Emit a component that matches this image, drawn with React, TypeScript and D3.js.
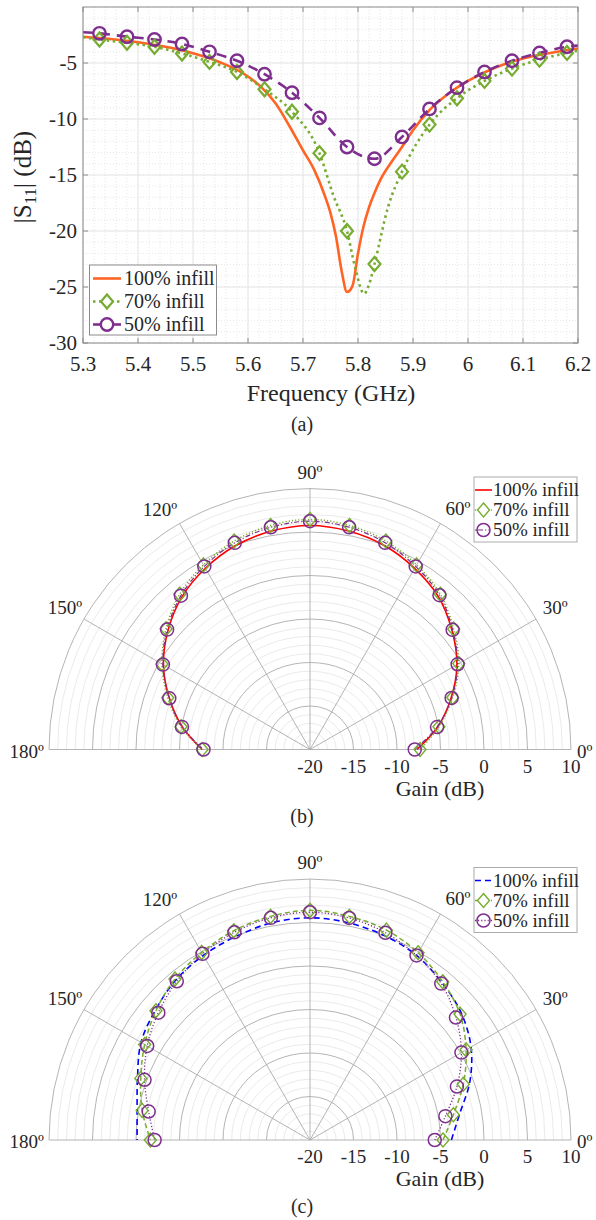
import React from 'react';
import * as d3 from 'd3';

const FONT = 'Liberation Serif, DejaVu Serif, serif';
const INK = '#262626';
const ORANGE = '#FF6424';
const GREEN = '#77AC30';
const PURPLE = '#7E2F8E';
const RED = '#FF0000';
const BLUE = '#0000FF';

// ---------- (a) |S11| vs frequency ----------
const freqTicks = [5.3, 5.4, 5.5, 5.6, 5.7, 5.8, 5.9, 6, 6.1, 6.2];
const s11Ticks = [-30, -25, -20, -15, -10, -5];

const markerFreqs = [5.33, 5.38, 5.43, 5.48, 5.53, 5.58, 5.63, 5.68, 5.73, 5.78, 5.83, 5.88, 5.93, 5.98, 6.03, 6.08, 6.13, 6.18];

const freq100 = [5.30, 5.35, 5.40, 5.45, 5.50, 5.55, 5.60, 5.625, 5.65, 5.675, 5.70, 5.72, 5.74, 5.75, 5.76, 5.77, 5.78, 5.79, 5.80, 5.81, 5.82, 5.83, 5.84, 5.86, 5.88, 5.90, 5.93, 5.96, 6.00, 6.05, 6.10, 6.15, 6.20];
const s11_100 = [-2.65, -2.85, -3.15, -3.55, -4.13, -4.95, -6.2, -7.2, -8.6, -10.6, -12.8, -14.5, -16.9, -18.4, -20.5, -23.5, -25.45, -24.9, -22.0, -19.6, -17.9, -16.6, -15.5, -13.9, -12.5, -11.0, -9.2, -7.9, -6.6, -5.4, -4.6, -4.1, -3.7];

const freq70 = [5.30, 5.33, 5.38, 5.43, 5.48, 5.53, 5.58, 5.63, 5.68, 5.73, 5.755, 5.78, 5.795, 5.811, 5.82, 5.83, 5.855, 5.88, 5.93, 5.98, 6.03, 6.08, 6.13, 6.18, 6.20];
const s11_70 = [-2.7, -2.9, -3.2, -3.55, -4.15, -4.9, -5.8, -7.35, -9.35, -13.05, -16.8, -20.0, -23.3, -25.6, -24.8, -22.95, -17.8, -14.7, -10.5, -8.15, -6.6, -5.5, -4.7, -4.1, -3.9];

const freq50 = [5.30, 5.33, 5.38, 5.43, 5.48, 5.53, 5.58, 5.63, 5.68, 5.73, 5.78, 5.83, 5.88, 5.93, 5.98, 6.03, 6.08, 6.13, 6.18, 6.20];
const s11_50 = [-2.25, -2.35, -2.65, -2.9, -3.3, -4.0, -4.8, -6.0, -7.65, -9.9, -12.5, -13.55, -11.6, -9.1, -7.2, -5.8, -4.8, -4.1, -3.55, -3.45];

// ---------- (b), (c) radiation patterns ----------
const angles = [0, 10, 20, 30, 40, 50, 60, 70, 80, 90, 100, 110, 120, 130, 140, 150, 160, 170, 180];
const angleTicks = [0, 30, 60, 90, 120, 150, 180];
const gainTicks = [-20, -15, -10, -5, 0, 5, 10];

const gainB100 = [-7.7, -5.1, -2.75, -0.5, 1.3, 2.95, 4.05, 4.95, 5.5, 5.75, 5.5, 4.95, 4.05, 2.9, 1.3, -0.55, -2.8, -5.1, -7.6];
const gainB70 = [-7.35, -4.95, -2.55, -0.25, 1.55, 3.3, 4.5, 5.5, 6.15, 6.45, 6.15, 5.5, 4.5, 3.3, 1.6, -0.35, -2.6, -4.95, -7.6];
const gainB50 = [-7.96, -5.17, -2.68, -0.41, 1.4, 3.15, 4.3, 5.28, 5.94, 6.24, 5.94, 5.28, 4.3, 3.08, 1.44, -0.48, -2.79, -5.06, -7.76];

const gainC100 = [-3.75, -2.52, -0.45, 1.37, 2.7, 3.6, 4.5, 5.0, 5.35, 5.54, 5.35, 4.9, 4.5, 4.0, 3.2, 2.43, 1.1, 0.18, -0.13];
const gainC70 = [-4.71, -3.27, -1.25, 0.72, 2.51, 3.74, 4.85, 5.67, 6.1, 6.4, 6.1, 5.6, 4.9, 4.15, 3.12, 1.94, 0.7, -0.41, -1.65];
const gainC50 = [-5.66, -4.2, -2.03, 0.1, 1.9, 3.47, 4.49, 5.35, 5.92, 6.18, 5.93, 5.41, 4.71, 3.82, 2.76, 1.61, 0.24, -1.17, -2.14];

const legendLabels = ['100% infill', '70% infill', '50% infill'];

const diamond = 'M0,-7L6,0L0,7L-6,0Z';

type Pt = [number, number];

function S11Chart() {
  const x = d3.scaleLinear().domain([5.3, 6.2]).range([83, 578]);
  const y = d3.scaleLinear().domain([-30, 0]).range([343, 7]);
  const [x0, x1] = x.range();
  const [y0, y1] = y.range();

  const line = d3.line<Pt>().x(d => x(d[0])).y(d => y(d[1])).curve(d3.curveMonotoneX);
  const pts = (f: number[], v: number[]): Pt[] => f.map((d, i) => [d, v[i]]);
  const marks = (f: number[], v: number[]): Pt[] => pts(f, v).filter(p => markerFreqs.some(m => Math.abs(m - p[0]) < 1e-6));

  const minorX = x.ticks(45);
  const minorY = y.ticks(30);

  return (
    <g style={{ fontFamily: FONT }} fill={INK}>
      <defs>
        <clipPath id="clipA"><rect x={x0} y={y1} width={x1 - x0} height={y0 - y1} /></clipPath>
      </defs>
      <rect x={x0} y={y1} width={x1 - x0} height={y0 - y1} fill="#fff" />
      {minorX.map((t, i) => (
        <line key={'mx' + i} x1={x(t)} x2={x(t)} y1={y1} y2={y0} stroke="#dcdcdc" strokeWidth={0.7} strokeDasharray="1,2" />
      ))}
      {minorY.map((t, i) => (
        <line key={'my' + i} y1={y(t)} y2={y(t)} x1={x0} x2={x1} stroke="#dcdcdc" strokeWidth={0.7} strokeDasharray="1,2" />
      ))}
      {freqTicks.map((t, i) => (
        <line key={'gx' + i} x1={x(t)} x2={x(t)} y1={y1} y2={y0} stroke="#e6e6e6" strokeWidth={1} />
      ))}
      {s11Ticks.map((t, i) => (
        <line key={'gy' + i} y1={y(t)} y2={y(t)} x1={x0} x2={x1} stroke="#e6e6e6" strokeWidth={1} />
      ))}
      <g clipPath="url(#clipA)" fill="none">
        <path d={line(pts(freq100, s11_100)) || ''} stroke={ORANGE} strokeWidth={2.6} />
        <path d={line(pts(freq70, s11_70)) || ''} stroke={GREEN} strokeWidth={2.6} strokeDasharray="2.5,3.5" />
        <path d={line(pts(freq50, s11_50)) || ''} stroke={PURPLE} strokeWidth={2.6} strokeDasharray="10,7" />
        {marks(freq70, s11_70).map((p, i) => (
          <path key={'d' + i} d={diamond} transform={`translate(${x(p[0])},${y(p[1])})`} stroke={GREEN} strokeWidth={2.2} fill="none" />
        ))}
        {marks(freq50, s11_50).map((p, i) => (
          <circle key={'c' + i} cx={x(p[0])} cy={y(p[1])} r={6.2} stroke={PURPLE} strokeWidth={2.4} fill="none" />
        ))}
      </g>
      <rect x={x0} y={y1} width={x1 - x0} height={y0 - y1} fill="none" stroke="#8c8c8c" strokeWidth={1} />
      {freqTicks.map((t, i) => (
        <g key={'tx' + i}>
          <line x1={x(t)} x2={x(t)} y1={y0} y2={y0 - 5} stroke="#8c8c8c" />
          <line x1={x(t)} x2={x(t)} y1={y1} y2={y1 + 5} stroke="#8c8c8c" />
          <text x={x(t)} y={371} fontSize={21} textAnchor="middle">{t}</text>
        </g>
      ))}
      {s11Ticks.map((t, i) => (
        <g key={'ty' + i}>
          <line x1={x0} x2={x0 + 5} y1={y(t)} y2={y(t)} stroke="#8c8c8c" />
          <line x1={x1} x2={x1 - 5} y1={y(t)} y2={y(t)} stroke="#8c8c8c" />
          <text x={77} y={y(t)} dy="0.34em" fontSize={21} textAnchor="end">{t}</text>
        </g>
      ))}
      <text x={331} y={401} fontSize={24} textAnchor="middle">Frequency (GHz)</text>
      <text transform="translate(31,177) rotate(-90)" fontSize={25} textAnchor="middle">
        <tspan>|S</tspan>
        <tspan dy={5} fontSize={17}>11</tspan>
        <tspan dy={-5}>| (dB)</tspan>
      </text>
      <text x={302} y={431} fontSize={20} textAnchor="middle">(a)</text>

      <g>
        <rect x={89.5} y={265} width={127} height={70} fill="#fff" stroke="#8c8c8c" strokeWidth={1} />
        {legendLabels.map((lab, i) => {
          const ly = 278.5 + i * 23;
          return (
            <g key={'la' + i}>
              {i === 0 && <line x1={93} x2={121} y1={ly} y2={ly} stroke={ORANGE} strokeWidth={2.6} />}
              {i === 1 && <line x1={93} x2={121} y1={ly} y2={ly} stroke={GREEN} strokeWidth={2.6} strokeDasharray="2.5,3.5" />}
              {i === 1 && <path d={diamond} transform={`translate(107,${ly})`} stroke={GREEN} strokeWidth={2.2} fill="#fff" />}
              {i === 2 && <line x1={93} x2={121} y1={ly} y2={ly} stroke={PURPLE} strokeWidth={2.6} />}
              {i === 2 && <circle cx={107} cy={ly} r={6.2} stroke={PURPLE} strokeWidth={2.4} fill="#fff" />}
              <text x={124} y={ly} dy="0.34em" fontSize={20}>{lab}</text>
            </g>
          );
        })}
      </g>
    </g>
  );
}

type SeriesStyle = {
  values: number[];
  color: string;
  width: number;
  dash?: string;
  marker?: 'diamond' | 'circle';
};

function PolarChart({ cy, series, label }: { cy: number; series: SeriesStyle[]; label: string }) {
  const cx = 310;
  const R = 261;
  const r = d3.scaleLinear().domain([-20, 10]).range([0, R]);
  const pos = (deg: number, rad: number): Pt => [cx + rad * Math.cos((deg * Math.PI) / 180), cy - rad * Math.sin((deg * Math.PI) / 180)];
  const radial = d3
    .lineRadial<number>()
    .angle((_, i) => ((90 - angles[i]) * Math.PI) / 180)
    .radius(d => r(d))
    .curve(d3.curveCatmullRom.alpha(0.5));
  const arc = (rad: number) => `M${cx - rad},${cy}A${rad},${rad} 0 0 1 ${cx + rad},${cy}`;
  const minor = r.ticks(30).filter(t => t > -20 && t % 5 !== 0);

  return (
    <g style={{ fontFamily: FONT }} fill={INK}>
      {minor.map((t, i) => (
        <path key={'mr' + i} d={arc(r(t))} fill="none" stroke="#e4e4e4" strokeWidth={0.8} />
      ))}
      {gainTicks.filter(t => t > -20).map((t, i) => (
        <path key={'rr' + i} d={arc(r(t))} fill="none" stroke="#acacac" strokeWidth={0.9} />
      ))}
      {angleTicks.map((a, i) => {
        const [px, py] = pos(a, R);
        return <line key={'sp' + i} x1={cx} y1={cy} x2={px} y2={py} stroke="#acacac" strokeWidth={0.9} />;
      })}
      <g transform={`translate(${cx},${cy})`} fill="none">
        {series.map((s, i) => (
          <path key={'ln' + i} d={radial(s.values) || ''} stroke={s.color} strokeWidth={s.width} strokeDasharray={s.dash} />
        ))}
      </g>
      {series.map((s, i) =>
        s.marker
          ? s.values.map((v, j) => {
              const [px, py] = pos(angles[j], r(v));
              return s.marker === 'diamond' ? (
                <path key={`m${i}-${j}`} d={diamond} transform={`translate(${px},${py})`} fill="none" stroke={s.color} strokeWidth={1.4} />
              ) : (
                <circle key={`m${i}-${j}`} cx={px} cy={py} r={6.5} fill="none" stroke={s.color} strokeWidth={1.5} />
              );
            })
          : null
      )}
      {angleTicks.map((a, i) => {
        if (a === 0) return <text key={'al' + i} x={cx + R + 6} y={cy + 2} dy="0.34em" fontSize={19}>{'0º'}</text>;
        if (a === 180) return <text key={'al' + i} x={cx - R - 5} y={cy + 2} dy="0.34em" fontSize={19} textAnchor="end">{'180º'}</text>;
        const spread = a === 120 ? 2 : a === 60 ? -1.5 : 0;
        const [px, py] = pos(a + spread, a === 90 ? R + 16 : R + 22);
        return (
          <text key={'al' + i} x={px} y={py} dy="0.34em" fontSize={19} textAnchor="middle">{`${a}º`}</text>
        );
      })}
      {gainTicks.map((t, i) => (
        <text key={'gl' + i} x={cx + r(t)} y={cy + 23} fontSize={19} textAnchor="middle">{t}</text>
      ))}
      <text x={cx + 130} y={cy + 46} fontSize={22} textAnchor="middle">Gain (dB)</text>
      <text x={302} y={cy + 73} fontSize={20} textAnchor="middle">{label}</text>

      <g>
        <rect x={474} y={cy - 272.5} width={103} height={65} fill="#fff" stroke="#acacac" strokeWidth={1} />
        {series.map((s, i) => {
          const ly = cy - 259.5 + i * 20;
          return (
            <g key={'lg' + i}>
              <line x1={475} x2={492} y1={ly} y2={ly} stroke={s.color} strokeWidth={s.width} strokeDasharray={s.dash} />
              {s.marker === 'diamond' && <path d={diamond} transform={`translate(483.5,${ly})`} fill="#fff" stroke={s.color} strokeWidth={1.4} />}
              {s.marker === 'circle' && (
                <>
                  <circle cx={483.5} cy={ly} r={6.5} fill="#fff" stroke={s.color} strokeWidth={1.5} />
                  <line x1={478} x2={489} y1={ly} y2={ly} stroke={s.color} strokeWidth={s.width} strokeDasharray={s.dash} />
                </>
              )}
              <text x={493} y={ly} dy="0.34em" fontSize={19}>{legendLabels[i]}</text>
            </g>
          );
        })}
      </g>
    </g>
  );
}

export default function App() {
  const seriesB: SeriesStyle[] = [
    { values: gainB100, color: RED, width: 1.6 },
    { values: gainB70, color: GREEN, width: 1.5, dash: '1.2,2', marker: 'diamond' },
    { values: gainB50, color: PURPLE, width: 1.2, dash: '5,2,1.2,2', marker: 'circle' },
  ];
  const seriesC: SeriesStyle[] = [
    { values: gainC100, color: BLUE, width: 1.6, dash: '6,4' },
    { values: gainC70, color: GREEN, width: 1.5, dash: '5,3', marker: 'diamond' },
    { values: gainC50, color: PURPLE, width: 1.3, dash: '1.2,2', marker: 'circle' },
  ];
  return (
    <svg width={596} height={1220} style={{ position: 'absolute', left: 0, top: 0, background: '#fff' }}>
      <rect width={596} height={1220} fill="#fff" />
      <S11Chart />
      <PolarChart cy={749.5} series={seriesB} label="(b)" />
      <PolarChart cy={1140} series={seriesC} label="(c)" />
    </svg>
  );
}
